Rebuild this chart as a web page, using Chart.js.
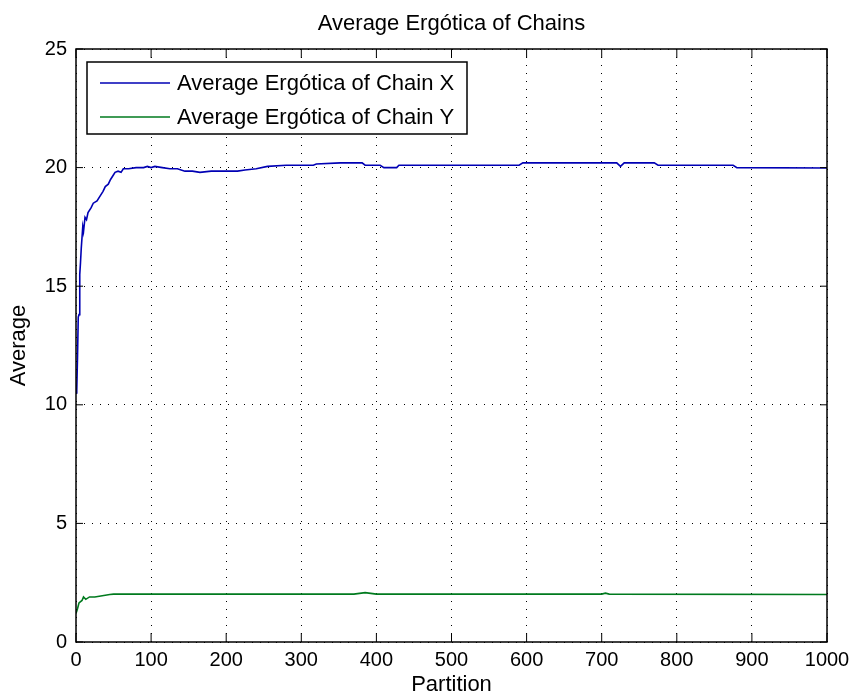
<!DOCTYPE html>
<html>
<head>
<meta charset="utf-8">
<title>Average Ergótica of Chains</title>
<script src="https://cdn.jsdelivr.net/npm/chart.js@4.4.0/dist/chart.umd.min.js"></script>
<style>
  body { margin: 0; background: #fff; }
  canvas { display: block; }
</style>
</head>
<body>
<canvas id="lineChart" width="850" height="698"></canvas>
<script>
// tick labels
const xTicks = [0, 100, 200, 300, 400, 500, 600, 700, 800, 900, 1000];
const yTicks = [0, 5, 10, 15, 20, 25];

// Chain X (blue)
const chainXPartition = [0, 1, 2, 3, 4, 5, 6, 7, 9, 10, 12, 14, 16, 20, 23, 28, 32, 36, 39, 43, 46, 50, 52, 56, 60, 63, 70, 80, 90, 95, 100, 105, 115, 125, 135, 145, 155, 165, 180, 200, 215, 225, 240, 255, 280, 316, 320, 352, 381, 385, 405, 410, 427, 430, 590, 595, 720, 725, 730, 770, 775, 875, 880, 1000];
const chainXAverage = [10.5, 10.6, 12.0, 13.7, 13.8, 15.5, 16.0, 16.6, 17.5, 17.3, 17.9, 17.8, 18.1, 18.3, 18.5, 18.6, 18.8, 19.0, 19.2, 19.3, 19.5, 19.7, 19.8, 19.85, 19.8, 19.95, 19.95, 20.0, 20.0, 20.05, 20.0, 20.05, 20.0, 19.95, 19.95, 19.85, 19.85, 19.8, 19.85, 19.85, 19.85, 19.9, 19.95, 20.05, 20.1, 20.1, 20.15, 20.2, 20.2, 20.1, 20.1, 20.0, 20.0, 20.1, 20.1, 20.2, 20.2, 20.05, 20.2, 20.2, 20.1, 20.1, 20.0, 19.98];

// Chain Y (green)
const chainYPartition = [0, 2, 4, 8, 10, 13, 18, 25, 35, 45, 50, 100, 370, 385, 400, 700, 705, 710, 1000];
const chainYAverage = [1.2, 1.4, 1.65, 1.75, 1.9, 1.8, 1.9, 1.9, 1.95, 2.0, 2.02, 2.02, 2.02, 2.08, 2.02, 2.02, 2.06, 2.02, 2.0];

const seriesLabels = ['Average Ergótica of Chain X', 'Average Ergótica of Chain Y'];
const seriesColors = ['#0000b4', '#007a1e'];
const chartTitle = 'Average Ergótica of Chains';

const FONT = "'Liberation Sans', Arial, Helvetica, sans-serif";

function toPoints(xs, ys) {
  return xs.map((x, i) => ({ x: x, y: ys[i] }));
}

// axes box, inward tick marks, title over the axes and boxed legend like the original figure
const matlabFrame = {
  id: 'matlabFrame',
  afterDatasetsDraw(chart) {
    const { ctx, chartArea: a, scales } = chart;
    ctx.save();
    ctx.strokeStyle = '#000';
    ctx.lineWidth = 1.5;
    ctx.strokeRect(a.left, a.top, a.right - a.left, a.bottom - a.top);

    ctx.lineWidth = 1;
    ctx.beginPath();
    xTicks.forEach((v) => {
      const px = scales.x.getPixelForValue(v);
      ctx.moveTo(px, a.bottom); ctx.lineTo(px, a.bottom - 9);
      ctx.moveTo(px, a.top); ctx.lineTo(px, a.top + 9);
    });
    yTicks.forEach((v) => {
      const py = scales.y.getPixelForValue(v);
      ctx.moveTo(a.left, py); ctx.lineTo(a.left + 7, py);
      ctx.moveTo(a.right, py); ctx.lineTo(a.right - 7, py);
    });
    ctx.stroke();

    // title centred over the axes
    ctx.fillStyle = '#000';
    ctx.font = '22px ' + FONT;
    ctx.textAlign = 'center';
    ctx.textBaseline = 'middle';
    ctx.fillText(chartTitle, (a.left + a.right) / 2, a.top - 25);

    // legend
    const bx = a.left + 11, by = a.top + 13, bw = 380, bh = 72;
    ctx.fillStyle = '#fff';
    ctx.fillRect(bx, by, bw, bh);
    ctx.lineWidth = 1.5;
    ctx.strokeStyle = '#000';
    ctx.strokeRect(bx, by, bw, bh);
    ctx.textAlign = 'left';
    chart.data.datasets.forEach((ds, i) => {
      const ry = by + 21 + i * 34;
      ctx.strokeStyle = ds.borderColor;
      ctx.lineWidth = 1.5;
      ctx.beginPath();
      ctx.moveTo(bx + 13, ry);
      ctx.lineTo(bx + 83, ry);
      ctx.stroke();
      ctx.fillStyle = '#000';
      ctx.fillText(ds.label, bx + 90, ry + 1);
    });
    ctx.restore();
  }
};

document.addEventListener('DOMContentLoaded', function () {
  Chart.defaults.color = '#000';
  Chart.defaults.font.family = FONT;

  const ctx = document.getElementById('lineChart').getContext('2d');
  new Chart(ctx, {
    type: 'line',
    data: {
      datasets: [
        {
          label: seriesLabels[0],
          data: toPoints(chainXPartition, chainXAverage),
          borderColor: seriesColors[0],
          borderWidth: 1.6,
          pointRadius: 0,
          tension: 0,
        },
        {
          label: seriesLabels[1],
          data: toPoints(chainYPartition, chainYAverage),
          borderColor: seriesColors[1],
          borderWidth: 1.6,
          pointRadius: 0,
          tension: 0,
        },
      ],
    },
    options: {
      responsive: false,
      animation: false,
      devicePixelRatio: 1,
      layout: { padding: { left: 0, right: 23, top: 49, bottom: 0 } },
      plugins: {
        legend: { display: false },
        tooltip: { enabled: false },
        title: { display: false },
      },
      scales: {
        x: {
          type: 'linear',
          min: 0,
          max: 1000,
          afterBuildTicks: (scale) => { scale.ticks = xTicks.map((v) => ({ value: v })); },
          afterFit: (scale) => {
            scale.height = 56;
            scale.paddingLeft = 0;
            scale.paddingRight = 0;
          },
          ticks: { font: { size: 20 }, padding: 6, maxRotation: 0, callback: (v) => String(v) },
          grid: { color: '#000', lineWidth: 1, drawTicks: false },
          border: { display: false, dash: [1, 7] },
          title: {
            display: true,
            text: 'Partition',
            font: { size: 22 },
            padding: { top: 0, bottom: 0 },
          },
        },
        y: {
          type: 'linear',
          min: 0,
          max: 25,
          afterBuildTicks: (scale) => { scale.ticks = yTicks.map((v) => ({ value: v })); },
          afterFit: (scale) => {
            scale.width = 76;
            scale.paddingTop = 0;
            scale.paddingBottom = 0;
          },
          ticks: { font: { size: 20 }, padding: 9, callback: (v) => String(v) },
          grid: { color: '#000', lineWidth: 1, drawTicks: false },
          border: { display: false, dash: [1, 7] },
          title: {
            display: true,
            text: 'Average',
            font: { size: 22 },
            padding: { top: 6, bottom: 0 },
          },
        },
      },
    },
    plugins: [matlabFrame],
  });
});
</script>
</body>
</html>
